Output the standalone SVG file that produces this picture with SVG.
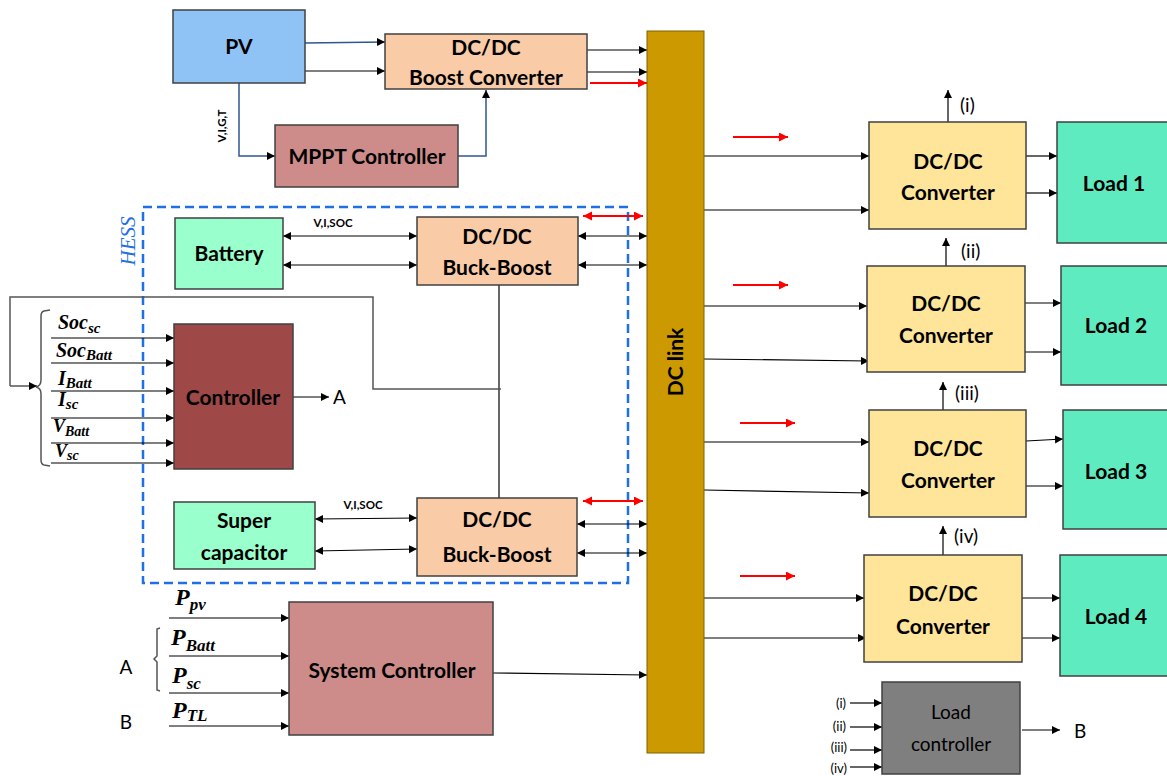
<svg xmlns="http://www.w3.org/2000/svg" width="1167" height="776" viewBox="0 0 1167 776">
<style>
.box{stroke:#404040;stroke-width:1.5}
.t{font-family:Lato,"Open Sans","Liberation Sans",sans-serif;font-weight:bold;font-size:21px;fill:#000;text-anchor:middle}
.r{font-family:Lato,"Open Sans","Liberation Sans",sans-serif;font-size:19px;fill:#000}
.s{font-family:Lato,"Open Sans","Liberation Sans",sans-serif;font-weight:bold;font-size:11.5px;fill:#000}
.m{font-family:"Liberation Serif","DejaVu Serif",serif;font-weight:bold;font-style:italic;fill:#000}
.ln{stroke:#000;stroke-width:1.2;fill:none}
.gl{stroke:#555;stroke-width:1.5;fill:none}
.bl{stroke:#2F5597;stroke-width:1.5;fill:none}
.rd{stroke:#FF0000;stroke-width:2;fill:none}
.a{marker-end:url(#ah)}
.d{marker-start:url(#ah);marker-end:url(#ah)}
.ra{marker-end:url(#rh)}
.rdd{marker-start:url(#rh);marker-end:url(#rh)}
.lc{font-family:Lato,"Open Sans","Liberation Sans",sans-serif;font-size:13px;fill:#000;text-anchor:end}
</style>
<defs>
<marker id="ah" markerUnits="userSpaceOnUse" markerWidth="9" markerHeight="9" refX="8" refY="4" orient="auto-start-reverse"><path d="M0,0 L8,4 L0,8 z" fill="#000"/></marker>
<marker id="rh" markerUnits="userSpaceOnUse" markerWidth="10" markerHeight="10" refX="9" refY="4.5" orient="auto-start-reverse"><path d="M0,0 L9,4.5 L0,9 z" fill="#FF0000"/></marker>
</defs>
<rect width="1167" height="776" fill="#fff"/>

<g id="hess">
<rect x="143" y="207" width="485" height="376" fill="none" stroke="#1F6FE5" stroke-width="2.5" stroke-dasharray="9,5"/>
<text transform="translate(135,241) rotate(-90)" font-family="Liberation Serif,serif" font-style="italic" font-size="21" fill="#1F6FE5" text-anchor="middle">HESS</text>
</g>

<g id="connectors">
<path class="bl a" d="M305,43 L385,42"/>
<path class="ln a" d="M305,71 L385,71"/>
<path class="bl a" d="M239,83 L239,156 L275,156"/>
<text class="s" transform="translate(226,126) rotate(-90)" text-anchor="middle">V,I,G,T</text>
<path class="bl a" d="M458,156 L486,156 L486,90"/>
<path class="ln a" d="M587,50 L647,50"/>
<path class="ln a" d="M587,72 L647,72"/>
<path class="rd ra" d="M590,83 L647,83"/>
<path class="ln d" d="M283,236 L417,236"/>
<path class="ln d" d="M283,265 L417,265"/>
<text class="s" x="333" y="227" text-anchor="middle">V,I,SOC</text>
<path class="ln d" d="M578,236 L647,236"/>
<path class="ln d" d="M578,265 L647,265"/>
<path class="rd rdd" d="M583,216 L643,216"/>
<path class="ln d" d="M315,519 L417,518"/>
<path class="ln d" d="M315,551 L417,549"/>
<text class="s" x="363" y="509" text-anchor="middle">V,I,SOC</text>
<path class="ln d" d="M577,524 L647,524"/>
<path class="ln d" d="M577,553 L647,553"/>
<path class="rd rdd" d="M583,501 L643,501"/>
<path class="ln" d="M499,285 L499,498"/>
<path class="gl" d="M501,389 L373,389 L373,297 L10,297 L10,386"/>
<path class="gl a" d="M10,386 L37,386"/>
<path class="gl" d="M50,310 L44,311 Q41,312 41,316 L41,380 Q41,386 36,387 Q41,388 41,394 L41,460 Q41,464 44,465 L50,466"/>
<path class="ln a" d="M51,338 L174,338"/>
<path class="ln a" d="M51,363 L174,363"/>
<path class="ln a" d="M51,391 L174,391"/>
<path class="ln a" d="M51,418 L174,418"/>
<path class="ln a" d="M51,443 L174,443"/>
<path class="ln a" d="M51,463 L174,463"/>
<text class="m" x="58" y="329" font-size="20">Soc<tspan font-size="15" dy="4">sc</tspan></text>
<text class="m" x="56" y="357" font-size="20">Soc<tspan font-size="15" dy="3">Batt</tspan></text>
<text class="m" x="58" y="385" font-size="20">I<tspan font-size="15" dy="3">Batt</tspan></text>
<text class="m" x="58" y="406" font-size="20">I<tspan font-size="15" dy="3">sc</tspan></text>
<text class="m" x="53" y="432" font-size="18">V<tspan font-size="14" dy="4">Batt</tspan></text>
<text class="m" x="55" y="457" font-size="18">V<tspan font-size="14" dy="3">sc</tspan></text>
<path class="ln a" d="M293,397 L329,397"/>
<text class="r" x="333" y="404" font-size="20">A</text>
<path class="gl a" d="M169,618 L289,618"/>
<path class="gl a" d="M169,656 L289,656"/>
<path class="gl a" d="M169,693 L289,693"/>
<path class="gl a" d="M169,726 L289,726"/>
<text class="m" x="175" y="605" font-size="24">P<tspan font-size="17" dy="5">pv</tspan></text>
<text class="m" x="171" y="645" font-size="24">P<tspan font-size="17" dy="6">Batt</tspan></text>
<text class="m" x="172" y="683" font-size="24">P<tspan font-size="17" dy="6">sc</tspan></text>
<text class="m" x="172" y="718" font-size="24">P<tspan font-size="17" dy="3">TL</tspan></text>
<path class="gl" d="M160,628 L157,629 L157,656 L154,659 L157,662 L157,690 L160,691" stroke-width="1"/>
<text class="r" x="126" y="674" font-size="20" text-anchor="middle">A</text>
<text class="r" x="126" y="729" font-size="20" text-anchor="middle">B</text>
<path class="ln a" d="M493,673 L647,675"/>
<path class="ln a" d="M704,156 L869,156"/>
<path class="ln a" d="M704,210 L869,210"/>
<path class="rd ra" d="M733,137 L788,137"/>
<path class="ln a" d="M948,122 L948,90"/>
<text class="r" x="960" y="112">(i)</text>
<path class="ln a" d="M1026,156 L1057,156"/>
<path class="ln a" d="M1026,193 L1057,193"/>
<path class="ln a" d="M704,306 L867,306"/>
<path class="ln a" d="M704,359 L869,361"/>
<path class="rd ra" d="M733,285 L788,285"/>
<path class="ln a" d="M946,266 L946,238"/>
<text class="r" x="961" y="258">(ii)</text>
<path class="ln a" d="M1025,303 L1061,303"/>
<path class="ln a" d="M1025,352 L1061,352"/>
<path class="ln a" d="M704,442 L869,442"/>
<path class="ln a" d="M704,490 L869,493"/>
<path class="rd ra" d="M740,423 L795,423"/>
<path class="ln a" d="M943,410 L943,382"/>
<text class="r" x="955" y="400">(iii)</text>
<path class="ln a" d="M1026,441 L1063,439"/>
<path class="ln a" d="M1026,486 L1063,486"/>
<path class="ln a" d="M704,598 L864,598"/>
<path class="ln a" d="M704,638 L866,638"/>
<path class="rd ra" d="M740,576 L795,576"/>
<path class="ln a" d="M943,555 L943,526"/>
<text class="r" x="954" y="543">(iv)</text>
<path class="ln a" d="M1022,598 L1060,598"/>
<path class="ln a" d="M1022,638 L1060,638"/>
<path class="ln a" d="M850,703 L882,703"/>
<path class="ln a" d="M850,727 L882,727"/>
<path class="ln a" d="M850,750 L882,750"/>
<path class="ln a" d="M850,767 L882,767"/>
<text class="lc" x="846" y="708">(i)</text>
<text class="lc" x="846" y="731">(ii)</text>
<text class="lc" x="847" y="752">(iii)</text>
<text class="lc" x="847" y="773">(iv)</text>
<path class="ln a" d="M1022,730 L1060,730"/>
<text class="r" x="1074" y="738" font-size="20">B</text>
</g>

<g id="pv"><rect class="box" x="173" y="10" width="132" height="73" fill="#8FC3F5"/><text class="t" x="239" y="54">PV</text></g>
<g id="boost"><rect class="box" x="385" y="34" width="202" height="55" fill="#F9CBA7"/><text class="t" x="486" y="55">DC/DC</text><text class="t" x="486" y="85">Boost Converter</text></g>
<g id="mppt"><rect class="box" x="275" y="125" width="183" height="62" fill="#CD8B8A"/><text class="t" x="367" y="164">MPPT Controller</text></g>
<g id="dclink"><rect x="647" y="31" width="57" height="722" fill="#CC9900" stroke="#7F6000" stroke-width="1"/><text class="t" transform="translate(683,362) rotate(-90)">DC link</text></g>
<g id="battery"><rect class="box" x="175" y="218" width="108" height="71" fill="#99FFCC"/><text class="t" x="229" y="261">Battery</text></g>
<g id="bb1"><rect class="box" x="417" y="217" width="161" height="68" fill="#F9CBA7"/><text class="t" x="497" y="244">DC/DC</text><text class="t" x="497" y="275">Buck-Boost</text></g>
<g id="controller"><rect class="box" x="174" y="324" width="119" height="145" fill="#9E4848"/><text class="t" x="233" y="405">Controller</text></g>
<g id="supercap"><rect class="box" x="174" y="502" width="141" height="67" fill="#99FFCC"/><text class="t" x="244" y="528">Super</text><text class="t" x="244" y="560">capacitor</text></g>
<g id="bb2"><rect class="box" x="417" y="498" width="160" height="78" fill="#F9CBA7"/><text class="t" x="497" y="527">DC/DC</text><text class="t" x="497" y="562">Buck-Boost</text></g>
<g id="sysctrl"><rect class="box" x="289" y="602" width="204" height="133" fill="#CD8B8A"/><text class="t" x="392" y="678">System Controller</text></g>
<g id="conv1"><rect class="box" x="869" y="122" width="157" height="107" fill="#FFE599"/><text class="t" x="948" y="169">DC/DC</text><text class="t" x="948" y="200">Converter</text></g>
<g id="conv2"><rect class="box" x="867" y="266" width="158" height="106" fill="#FFE599"/><text class="t" x="946" y="311">DC/DC</text><text class="t" x="946" y="343">Converter</text></g>
<g id="conv3"><rect class="box" x="869" y="410" width="157" height="107" fill="#FFE599"/><text class="t" x="948" y="456">DC/DC</text><text class="t" x="948" y="488">Converter</text></g>
<g id="conv4"><rect class="box" x="864" y="555" width="158" height="107" fill="#FFE599"/><text class="t" x="943" y="601">DC/DC</text><text class="t" x="943" y="634">Converter</text></g>
<g id="load1"><rect class="box" x="1057" y="122" width="115" height="121" fill="#5EEBC0"/><text class="t" x="1114" y="191">Load 1</text></g>
<g id="load2"><rect class="box" x="1061" y="266" width="111" height="119" fill="#5EEBC0"/><text class="t" x="1116" y="333">Load 2</text></g>
<g id="load3"><rect class="box" x="1063" y="410" width="109" height="119" fill="#5EEBC0"/><text class="t" x="1116" y="479">Load 3</text></g>
<g id="load4"><rect class="box" x="1060" y="555" width="112" height="121" fill="#5EEBC0"/><text class="t" x="1116" y="624">Load 4</text></g>
<g id="loadctrl"><rect class="box" x="882" y="682" width="138" height="92" fill="#7F7F7F"/><text class="r" x="951" y="719" font-size="21" text-anchor="middle">Load</text><text class="r" x="951" y="751" font-size="21" text-anchor="middle">controller</text></g>
</svg>
